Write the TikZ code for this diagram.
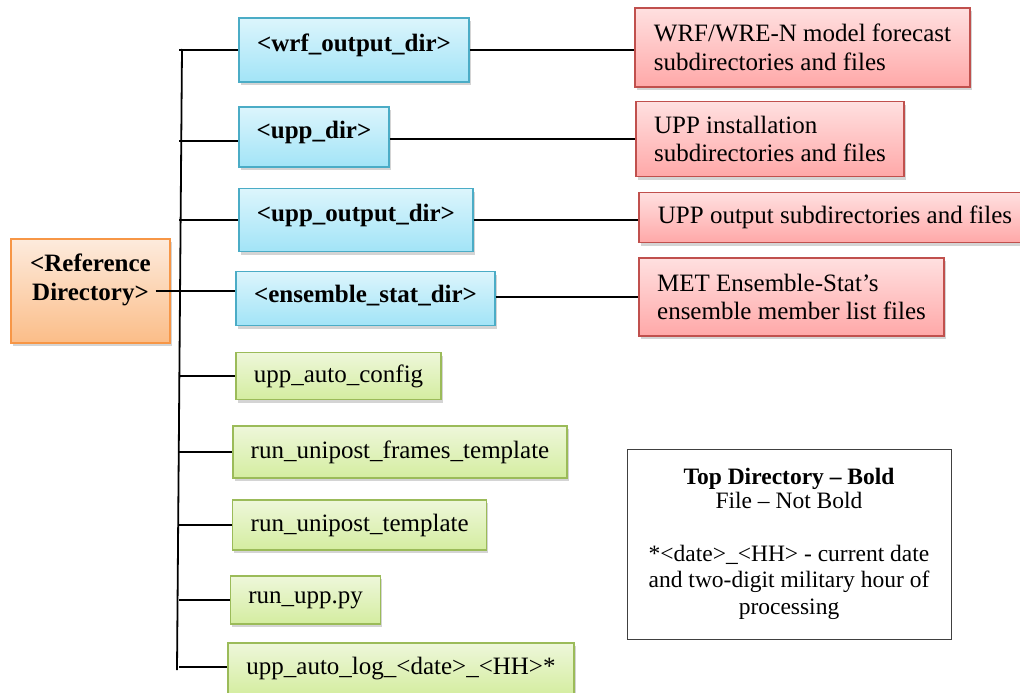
\documentclass[tikz,border=0pt]{standalone}
\usepackage{fontspec}
\setmainfont{Liberation Serif}
\usetikzlibrary{shadows}
\definecolor{bluetop}{HTML}{DCF5FC}
\definecolor{bluebot}{HTML}{A2E4F7}
\definecolor{blueline}{HTML}{4BACC6}
\definecolor{redtop}{HTML}{FFE0E0}
\definecolor{redbot}{HTML}{FFA8A8}
\definecolor{redline}{HTML}{C0504D}
\definecolor{orgtop}{HTML}{FDEBDD}
\definecolor{orgbot}{HTML}{FBBD88}
\definecolor{orgline}{HTML}{F79646}
\definecolor{grntop}{HTML}{EEF7DA}
\definecolor{grnbot}{HTML}{D4EDA0}
\definecolor{grnline}{HTML}{9BBB59}
\tikzset{
  base/.style={inner sep=0pt, line width=1.2pt,
    font=\fontsize{25}{28.5}\selectfont,
    drop shadow={shadow xshift=1.5pt, shadow yshift=-3pt, opacity=0.28, fill=black!60}},
  dirbox/.style={base, draw=blueline, top color=bluetop, bottom color=bluebot,
    font=\fontsize{25}{28.5}\selectfont\bfseries, text height=17pt, text depth=14pt},
  refbox/.style={base, draw=orgline, top color=orgtop, bottom color=orgbot,
    font=\fontsize{25}{28.3}\selectfont\bfseries, align=center, text height=45.3pt, text depth=27.3pt},
  descbox/.style={base, draw=redline, top color=redtop, bottom color=redbot, align=left},
  filebox/.style={base, draw=grnline, top color=grntop, bottom color=grnbot},
  legendbox/.style={draw=black!75, line width=0.9pt, inner sep=0pt, align=center,
    font=\fontsize{23.5}{26.5}\selectfont},
  conn/.style={draw=black, line width=1.8pt}
}
\begin{document}
\begin{tikzpicture}[x=1pt, y=-1pt]
\useasboundingbox (0,0) rectangle (1020,693);
% reference directory
\node[refbox, minimum width=159pt, minimum height=104pt] (ref) at (90.5,291) {<Reference\\Directory>};
% top directories
\node[dirbox, minimum width=230pt, minimum height=64pt] (wrf) at (354,50) {<wrf\_output\_dir>};
\node[dirbox, minimum width=150pt, minimum height=60pt] (upp) at (314,137) {<upp\_dir>};
\node[dirbox, minimum width=234pt, minimum height=63pt] (uppo) at (356,220) {<upp\_output\_dir>};
\node[dirbox, minimum width=259pt, minimum height=54pt, text depth=9pt] (ens) at (365.5,298.5) {<ensemble\_stat\_dir>};
% descriptions
\node[descbox, minimum width=335pt, minimum height=79pt] (wrfd) at (802.5,47.5) {WRF/WRE-N model forecast\\subdirectories and files};
\node[descbox, minimum width=268pt, minimum height=75pt] (uppd) at (770,139) {UPP installation\\subdirectories and files};
\node[descbox, minimum width=392pt, minimum height=50pt] (uppod) at (835,217.5) {UPP output subdirectories and files};
\node[descbox, minimum width=305pt, minimum height=78pt] (metd) at (791.5,297) {MET Ensemble-Stat’s\\ensemble member list files};
% files
\node[filebox, minimum width=205pt, minimum height=47pt] (cfg) at (338.5,376) {upp\_auto\_config};
\node[filebox, minimum width=334pt, minimum height=52pt] (frm) at (400,452) {run\_unipost\_frames\_template};
\node[filebox, minimum width=254pt, minimum height=50pt] (tpl) at (359.7,525) {run\_unipost\_template};
\node[filebox, minimum width=150pt, minimum height=48pt] (rup) at (305.7,600) {run\_upp.py};
\node[filebox, minimum width=346pt, minimum height=52pt] (log) at (401,669) {upp\_auto\_log\_<date>\_<HH>*};
% legend
\node[legendbox, minimum width=324pt, minimum height=190pt] (leg) at (789,544)
  {\textbf{Top Directory – Bold}\\[-3pt]File – Not Bold\\[26.5pt]*<date>\_<HH> - current date\\and two-digit military hour of\\processing};
% trunk
\coordinate (ttop) at (182,49);
\coordinate (tbot) at (177,670);
\coordinate (tx) at (179,0);
\draw[conn] (ttop) -- (tbot);
\coordinate (refout) at ([xshift=-15pt]ref.east);
% branches
\draw[conn] (wrf.west -| tx) -- (wrf.west);
\draw[conn] (upp.west -| tx) ++(0,4) coordinate (b2) -- (b2 -| upp.west);
\draw[conn] (refout) -- (refout -| ens.west);
\draw[conn] (uppo.west -| tx) -- (uppo.west);
\draw[conn] (cfg.west -| tx) -- (cfg.west);
\draw[conn] (frm.west -| tx) -- (frm.west);
\draw[conn] (tpl.west -| tx) -- (tpl.west);
\draw[conn] (rup.west -| tx) -- (rup.west);
\draw[conn] (log.west -| tx) ++(0,-2) coordinate (b9) -- (b9 -| log.west);
% right connectors
\draw[conn] (wrf.east) -- (wrf.east -| wrfd.west);
\draw[conn] (upp.east) ++(0,2) coordinate (c2) -- (c2 -| uppd.west);
\draw[conn] (uppo.east) -- (uppo.east -| uppod.west);
\draw[conn] (ens.east) ++(0,-1.5) coordinate (c4) -- (c4 -| metd.west);
\end{tikzpicture}
\end{document}
